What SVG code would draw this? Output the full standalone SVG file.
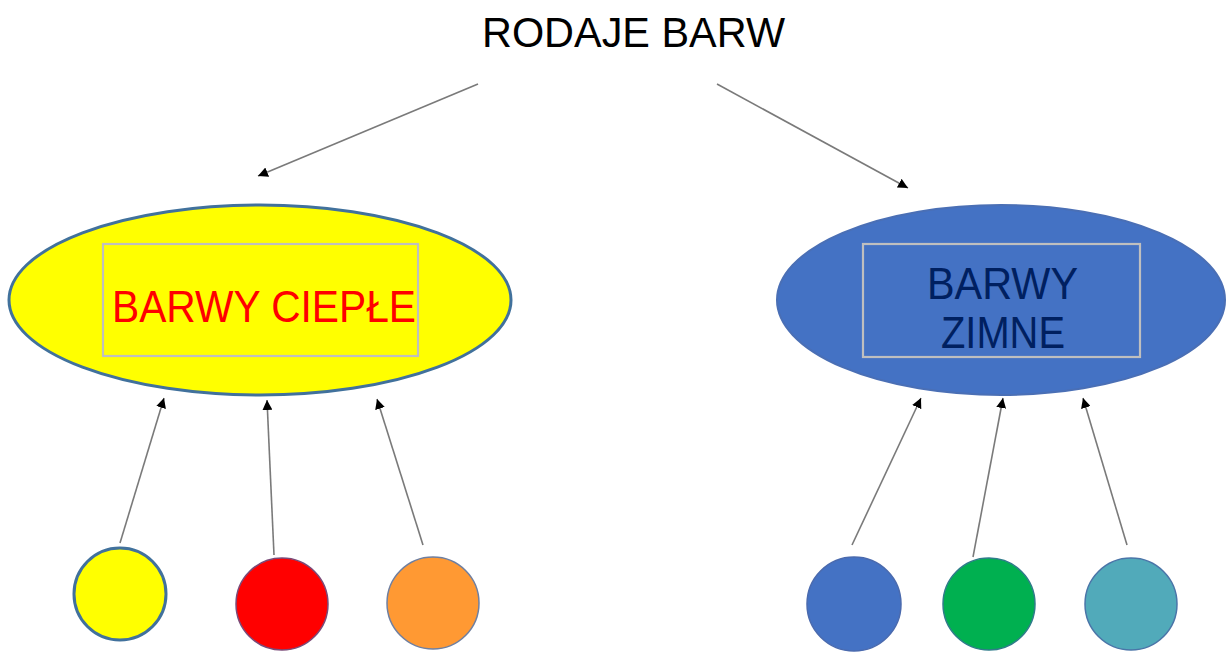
<svg xmlns="http://www.w3.org/2000/svg" width="1227" height="653" viewBox="0 0 1227 653">
<style>
.t{font-family:"Liberation Sans",Arial,sans-serif;}
.con line{stroke:#7a7a7a;stroke-width:1.6;fill:none;marker-end:url(#ah);}
.box{fill:none;stroke:#BFBFBF;stroke-width:2.2;}
</style>
<defs>
<marker id="ah" markerUnits="userSpaceOnUse" markerWidth="10" markerHeight="10" viewBox="0 0 10 10" refX="10" refY="5" orient="auto">
<path d="M0,0 L10,5 L0,10 Z" fill="#000"/>
</marker>
</defs>
<rect width="1227" height="653" fill="#fff"/>
<g id="title"><text class="t" x="633.5" y="47" font-size="43" text-anchor="middle" textLength="303" lengthAdjust="spacingAndGlyphs" fill="#000">RODAJE BARW</text></g>
<g id="warm">
<ellipse cx="260" cy="300" rx="251" ry="95" fill="#FFFF00" stroke="#41719C" stroke-width="3"/>
<rect class="box" x="103" y="244" width="315" height="112"/>
<text class="t" x="264" y="322" font-size="44" text-anchor="middle" textLength="304" lengthAdjust="spacingAndGlyphs" fill="#FF0000">BARWY CIEPŁE</text>
</g>
<g id="cold">
<ellipse cx="1001" cy="300" rx="224" ry="95" fill="#4472C4" stroke="#4A6FB5" stroke-width="2"/>
<rect class="box" x="863" y="244" width="277" height="113"/>
<text class="t" x="1002.5" y="299" font-size="45" text-anchor="middle" textLength="151" lengthAdjust="spacingAndGlyphs" fill="#002060">BARWY</text>
<text class="t" x="1003" y="348" font-size="45" text-anchor="middle" textLength="124" lengthAdjust="spacingAndGlyphs" fill="#002060">ZIMNE</text>
</g>
<g id="c-yellow"><circle cx="120" cy="594" r="46" fill="#FFFF00" stroke="#41719C" stroke-width="3"/></g>
<g id="c-red"><circle cx="282" cy="604" r="46" fill="#FF0000" stroke="#7A4A78" stroke-width="1.5"/></g>
<g id="c-orange"><circle cx="433" cy="603" r="46" fill="#FF9933" stroke="#6F7FA0" stroke-width="1.5"/></g>
<g id="c-blue"><circle cx="854" cy="604" r="47" fill="#4472C4" stroke="#4A6AAE" stroke-width="1.5"/></g>
<g id="c-green"><circle cx="989" cy="604" r="46" fill="#00B050" stroke="#2F7C8A" stroke-width="1.5"/></g>
<g id="c-teal"><circle cx="1131" cy="604" r="46" fill="#51AABA" stroke="#4A75A8" stroke-width="1.5"/></g>
<g id="connectors" class="con">
<line x1="478" y1="84" x2="258" y2="176"/>
<line x1="717" y1="84" x2="908" y2="188"/>
<line x1="120" y1="543" x2="164" y2="398"/>
<line x1="274" y1="555" x2="267" y2="400"/>
<line x1="423" y1="545" x2="377" y2="399"/>
<line x1="852" y1="545" x2="921" y2="398"/>
<line x1="973" y1="557" x2="1003" y2="398"/>
<line x1="1127" y1="545" x2="1083" y2="398"/>
</g>
</svg>
